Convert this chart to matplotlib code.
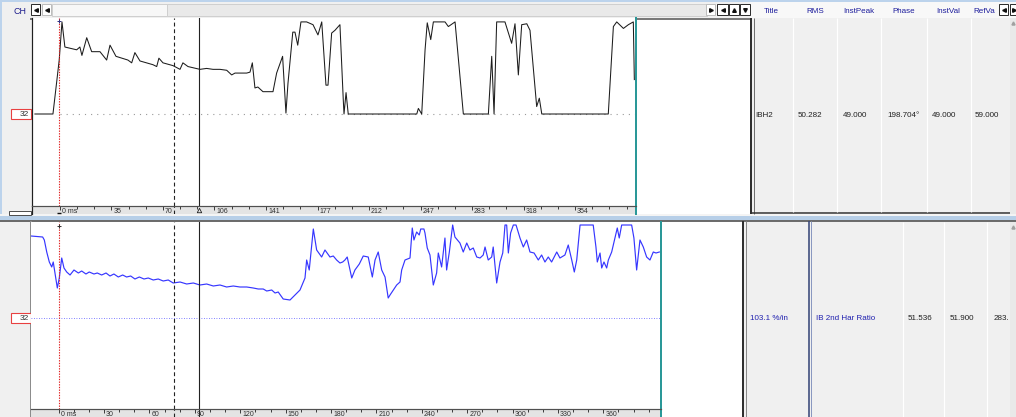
import matplotlib
matplotlib.use("Agg")
import matplotlib.pyplot as plt
from matplotlib.patches import Rectangle
from matplotlib import transforms as mtrans

plt.rcParams['font.family'] = ['Liberation Sans', 'DejaVu Sans']

W, H = 1016, 417

# ---------------- channel 1: IBH2 (time in ms, value in %) ----------------
ibh2_t = [-17.2, -4.8, -0.5, 1.4, 3.4, 11.5, 13.7, 15.1, 18.4, 21.8,
          27.5, 32.1, 34.4, 38.5, 46.7, 49.3, 51.5, 55.0, 63.9, 66.5,
          68.0, 70.8, 77.7, 82.5, 84.5, 88.0, 96.2, 100.8, 105.2, 110.0,
          114.6, 118.0, 120.3, 128.3, 130.6, 132.2, 134.0, 136.0, 139.5, 146.4,
          148.9, 153.0, 155.3, 156.7, 160.0, 161.5, 163.4, 165.6, 169.5, 173.9,
          177.3, 179.9, 182.8, 184.2, 186.7, 189.0, 192.4, 194.7, 195.2, 196.6,
          198.1, 245.2, 246.3, 248.6, 250.9, 252.4, 254.8, 256.6, 264.6, 266.9,
          271.5, 272.6, 277.2, 294.4, 296.7, 298.3, 300.1, 305.8, 310.4, 312.7,
          315.0, 317.3, 320.8, 323.0, 327.6, 329.4, 331.1, 376.8, 380.3, 382.6,
          387.2, 390.6, 394.0, 394.7]
ibh2_v = [0, 0, 58, 99, 72, 69, 72, 63, 82, 67,
          67, 58, 74, 62, 58, 55, 66, 57, 53, 51,
          60, 55, 52, 48, 55, 51, 48, 49, 48, 48,
          47, 42, 44, 44, 45, 55, 28, 29, 24, 24,
          44, 62, 1, 33, 88, 88, 74, 99, 99, 96,
          85, 99, 31, 31, 87, 90, 96, 15, 0, 23,
          0, 0, 6, 0, 69, 98, 80, 99, 99, 94,
          99, 80, 0, 0, 62, 0, 99, 99, 76, 97,
          42, 96, 97, 90, 8, 17, 0, 0, 94, 99,
          92, 96, 99, 37]

# ---------------- channel 2: IB 2nd Har Ratio ----------------
ratio_t = [-18.3, -10.6, -9.5, -7.9, -6.2, -4.6, -3.6, -2.0, -0.9, 0.4,
           2.0, 3.5, 5.3, 7.5, 10.1, 13.0, 15.2, 18.0, 20.2, 23.3,
           25.5, 28.4, 31.3, 33.9, 36.5, 39.4, 42.3, 44.9, 47.6, 50.4,
           53.3, 56.4, 59.2, 62.5, 65.8, 69.1, 72.4, 75.7, 80.2, 84.6,
           89.0, 93.4, 97.8, 102.2, 106.6, 111.0, 115.4, 119.8, 124.3, 128.6,
           131.9, 135.2, 137.5, 140.8, 143.0, 145.1, 148.4, 152.9, 159.5, 162.8,
           163.9, 165.6, 168.3, 170.5, 173.8, 176.0, 179.3, 181.5, 183.7, 185.9,
           187.7, 189.2, 190.7, 192.1, 193.7, 195.8, 198.7, 201.3, 204.6, 207.3,
           209.1, 211.2, 213.5, 215.7, 217.8, 219.0, 221.2, 223.4, 225.6, 226.7,
           228.9, 232.2, 233.7, 234.8, 236.6, 238.3, 239.3, 241.4, 242.1, 243.6,
           245.4, 247.6, 249.8, 250.9, 253.1, 255.3, 256.4, 258.2, 260.4, 261.9,
           265.2, 267.4, 269.7, 271.8, 274.0, 276.3, 278.5, 280.6, 281.8, 283.9,
           286.2, 287.2, 289.5, 291.7, 293.5, 295.0, 296.1, 297.2, 298.7, 300.5,
           302.3, 304.9, 307.1, 309.3, 311.5, 314.2, 317.0, 319.2, 321.4, 323.6,
           325.8, 329.2, 331.3, 334.6, 336.8, 339.1, 340.8, 342.4, 344.6, 353.3,
           355.1, 356.0, 357.8, 358.9, 360.4, 362.2, 363.3, 365.5, 367.7, 369.2,
           370.5, 372.1, 378.7, 380.2, 382.0, 384.2, 386.4, 388.6, 390.8, 393.0,
           394.8, 397.0]
ratio_v = [82, 81, 78, 66, 56, 51, 56, 41, 30, 40,
           60, 50, 46, 43, 48, 45, 47, 44, 46, 44,
           45, 43, 45, 42, 44, 41, 43, 41, 42, 39,
           41, 39, 40, 38, 39, 37, 38, 35, 36, 34,
           35, 33, 34, 32, 33, 31, 32, 31, 31, 30,
           29, 29, 27, 28, 25, 26, 19, 18, 28, 40,
           58, 48, 89, 68, 61, 68, 61, 62, 58, 55,
           56, 58, 61, 51, 40, 48, 54, 62, 61, 41,
           58, 66, 48, 41, 20, 23, 28, 33, 36, 48,
           58, 60, 90, 78, 86, 83, 89, 89, 85, 70,
           63, 33, 45, 65, 51, 80, 48, 66, 93, 81,
           75, 66, 75, 68, 70, 61, 60, 63, 71, 58,
           61, 71, 35, 56, 65, 93, 93, 65, 85, 93,
           93, 80, 71, 78, 66, 65, 58, 63, 56, 61,
           56, 66, 60, 63, 73, 58, 46, 58, 93, 93,
           71, 56, 65, 50, 56, 50, 58, 66, 80, 90,
           80, 93, 93, 80, 48, 78, 71, 61, 58, 66,
           65, 66]

# time axes
top_tick_ms = [0, 35.4, 70.8, 106.2, 141.6, 177.0, 212.4, 247.8, 283.2, 318.6, 354.0]
top_tick_labels = ["0 ms", "35", "70", "106", "141", "177", "212", "247", "283", "318", "354"]
bottom_tick_ms = [0, 30, 60, 90, 120, 150, 180, 210, 240, 270, 300, 330, 360]
bottom_tick_labels = ["0 ms", "30", "60", "90", "120", "150", "180", "210", "240", "270",
                      "300", "330", "360"]

# cursors: reference (red), A (dashed), B (solid)
top_cursors = [-0.5, 78.4, 95.3]
bottom_cursors = [0.4, 76.2, 92.5]

# readout tables
header_titles = ["Title", "RMS", "InstPeak", "Phase", "InstVal", "RefVa"]
row_ibh2 = ["IBH2", "50.282", "49.000", "198.704\u00b0", "49.000", "59.000"]
row_ratio_scale = "103.1 %/in"
row_ratio = ["IB 2nd Har Ratio", "51.536", "51.900", "283."]
channel_no = "32"

TEAL = '#2a9898'
GRAY = '#f0f0f0'
BLUE_TXT = '#2020b0'
PX = 0.72  # one pixel expressed in points

fig = plt.figure(figsize=(W / 100, H / 100), dpi=100)
fig.patch.set_facecolor('white')

# ---------- window chrome in pixel coordinates ----------
bg = fig.add_axes([0, 0, 1, 1])
bg.set_xlim(0, W)
bg.set_ylim(H, 0)
bg.axis('off')


def rect(x0, y0, x1, y1, fc, ec='none', lw=0.0, z=1):
    bg.add_patch(Rectangle((x0, y0), x1 - x0, y1 - y0, facecolor=fc,
                           edgecolor=ec, linewidth=lw * PX, zorder=z))


def hl(y, x0, x1, color, lw=1.0, z=3):
    bg.plot([x0, x1], [y, y], color=color, lw=lw * PX, zorder=z, solid_capstyle='butt')


def vl(x, y0, y1, color, lw=1.0, z=3):
    bg.plot([x, x], [y0, y1], color=color, lw=lw * PX, zorder=z, solid_capstyle='butt')


def px_axes(x0, y0, x1, y1):
    return fig.add_axes([x0 / W, 1 - y1 / H, (x1 - x0) / W, (y1 - y0) / H])


# header bar
rect(0, 0, W, 18, GRAY)
rect(0, 0, W, 2, '#bcd3ec')
rect(52, 4, 167, 16, '#f7f7f7', ec='#cfcfcf', lw=1)
rect(167, 4, 707, 16, '#e9e9e9', ec='#cfcfcf', lw=1)
rect(750, 2, W, 18, '#f8f8f8')
bg.text(20, 11, "CH", ha='center', va='center', fontsize=6.4, color='#1c1c8c')
# scroll buttons
for (bx0, bx1, mk, boxed) in [(31, 40, '<', True), (42, 51, '<', False),
                              (706, 715, '>', False), (717, 728, '<', True),
                              (729, 739, '^', True), (740, 750, 'v', True),
                              (999, 1008, '<', True)]:
    rect(bx0, 4, bx1, 15, 'white', ec='#303030' if boxed else '#bdbdbd', lw=1, z=2)
    bg.plot((bx0 + bx1) / 2, 9.5, marker=mk, ms=2.6, color='#101010', zorder=4)
rect(1010, 4, W, 15, 'white', ec='#303030', lw=1, z=2)
bg.plot(1013.5, 9.5, marker='>', ms=2.6, color='#101010', zorder=4)
hdr_x = [764, 806, 843, 892, 936, 973]
for x, t in zip(hdr_x, header_titles):
    bg.text(x, 11, t, ha='left', va='center', fontsize=5.8, color='#1c1c9c')

# left gutter & window edge
rect(0, 18, 32, 214, GRAY)
rect(0, 221, 31, H, GRAY)
rect(0, 0, 2, 214, '#bcd3ec', z=2)
rect(9, 211, 31, 215, 'white', ec='#505050', lw=1, z=2)
hl(18.5, 30, 750, '#5a5a5a', 1.6)

# top readout table
rect(750, 18, 1010, 213, GRAY)
vl(751, 18, 214, '#303030', 2)
vl(754, 18, 214, '#707070', 1)
hl(213, 750, 1010, '#303030', 1.5)
for x in [793, 837, 881, 927, 971]:
    vl(x, 18, 212, 'white', 1.2)
rect(1010, 18, W, 214, '#e9e9e9')
bg.plot(1013, 23, marker='^', ms=2.2, color='#a0a0a0', zorder=4)
row1_x = [755, 798, 843, 887, 932, 975]
for x, t in zip(row1_x, row_ibh2):
    bg.text(x, 115, t, ha='left', va='center', fontsize=5.8, color='#202020')

# separator between channels
rect(0, 214, W, 221, '#f4f4f4')
rect(0, 215.5, W, 220.2, '#b7cfe8')
hl(221, 0, W, '#4a4a4a', 1.6)

# bottom readout table
rect(742, 222, 1010, H, GRAY)
vl(743, 221, H, '#303030', 2)
vl(745.5, 221, H, '#8a8a8a', 1)
vl(808.5, 221, H, '#3a4a7a', 1.6)
vl(810.8, 221, H, '#8a98c0', 1)
for x in [903, 943.5, 987]:
    vl(x, 222, H, 'white', 1.2)
rect(1010, 222, W, H, '#e9e9e9')
bg.plot(1013, 227, marker='^', ms=2.2, color='#a0a0a0', zorder=4)
bg.text(750, 318, row_ratio_scale, ha='left', va='center', fontsize=5.8, color=BLUE_TXT)
row2_x = [816, 908, 950, 994]
row2_col = [BLUE_TXT, '#202020', '#202020', '#202020']
for x, t, c in zip(row2_x, row_ratio, row2_col):
    bg.text(x, 318, t, ha='left', va='center', fontsize=5.8, color=c)
vl(30.5, 221, H, '#8c8c8c', 2)

# channel number boxes
for yc in (114, 318):
    rect(11, yc - 5, 30.5, yc + 5, 'white', ec='#e84040', lw=1.1, z=4)
    bg.text(28.5, yc + 0.3, channel_no, ha='right', va='center', fontsize=6,
            color='#303030', zorder=5)


def teal_right(ax):
    ax.spines['right'].set_visible(True)
    ax.spines['right'].set_color(TEAL)
    ax.spines['right'].set_linewidth(2 * PX)


def style_strip(ax, ticks, labels, minor_step, xlim):
    ax.set_facecolor('#e4e4e4')
    ax.set_xlim(*xlim)
    ax.set_ylim(0, 1)
    ax.set_yticks([])
    ax.spines['bottom'].set_visible(False)
    ax.spines['top'].set_color('#505050')
    ax.spines['top'].set_linewidth(1.2 * PX)
    ax.spines['left'].set_color('#202020')
    ax.spines['left'].set_linewidth(1.2 * PX)
    teal_right(ax)
    ax.set_xticks(ticks)
    minors = []
    m = minor_step
    while m < xlim[1]:
        minors.append(m)
        m += minor_step
    ax.set_xticks(minors, minor=True)
    ax.tick_params(axis='x', which='both', direction='in', top=True, bottom=False,
                   labelbottom=False, labeltop=False, color='#202020', width=0.6)
    ax.tick_params(axis='x', which='major', length=2.6)
    ax.tick_params(axis='x', which='minor', length=1.8)
    off = mtrans.offset_copy(ax.get_xaxis_transform(), fig=fig, x=2, y=0, units='dots')
    for t, lab in zip(ticks, labels):
        ax.text(t, 0.3, lab, transform=off, ha='left', va='center',
                fontsize=5.0, color='#303030')


def draw_cursors(ax, xs):
    ax.axvline(xs[0], color='#e02020', lw=0.8, ls=(0, (1.2, 1.2)), zorder=5)
    ax.axvline(xs[1], color='#222222', lw=0.8, ls=(0, (3.5, 2.5)), zorder=5)
    ax.axvline(xs[2], color='#222222', lw=0.8, zorder=5)


# ---------- channel 1 plot ----------
top_xlim = (-19.2, 395.5)
ax1 = px_axes(32, 18, 635.5, 206)
ax1.set_facecolor('white')
ax1.set_xlim(*top_xlim)
ax1.set_ylim(-98.9, 103.2)
ax1.set_xticks([])
ax1.set_yticks([])
for s in ('top', 'bottom'):
    ax1.spines[s].set_visible(False)
ax1.spines['left'].set_color('#202020')
ax1.spines['left'].set_linewidth(1.2 * PX)
teal_right(ax1)
ax1.hlines(0, 0, top_xlim[1], color='#9a9a9a', lw=0.8, ls=(0, (1, 4.5)), zorder=1)
ax1.plot(ibh2_t, ibh2_v, color='#1c1c1c', lw=0.75, zorder=3)
draw_cursors(ax1, top_cursors)
ax1.plot([top_cursors[0]], [100], marker='+', ms=3, color='#303080',
         mew=0.7, zorder=6, clip_on=False)

st1 = px_axes(32, 206, 635.5, 214)
style_strip(st1, top_tick_ms, top_tick_labels, 11.8, top_xlim)
st1.axvline(top_cursors[1], color='#222222', lw=0.8, ls=(0, (3.5, 2.5)))
st1.plot([top_cursors[2]], [0.45], marker='^', ms=3.2, mfc='none', mec='#202020', mew=0.6)
st1.plot([top_cursors[0]], [0.15], marker='_', ms=3.5, color='#101010', mew=1.0)

# ---------- channel 2 plot ----------
bot_xlim = (-18.3, 398.1)
ax2 = px_axes(31, 222, 661, 409)
ax2.set_facecolor('white')
ax2.set_xlim(*bot_xlim)
ax2.set_ylim(-91, 96)
ax2.set_xticks([])
ax2.set_yticks([])
for s in ('top', 'bottom', 'left'):
    ax2.spines[s].set_visible(False)
teal_right(ax2)
ax2.axhline(0, color='#5a5aff', lw=0.6, ls=(0, (1, 2)), zorder=1)
ax2.plot(ratio_t, ratio_v, color='#3636ff', lw=0.85, zorder=3)
draw_cursors(ax2, bottom_cursors)
ax2.plot([bottom_cursors[0]], [92], marker='+', ms=3, color='#303030',
         mew=0.7, zorder=6)

st2 = px_axes(31, 409, 661, 417)
style_strip(st2, bottom_tick_ms, bottom_tick_labels, 10, bot_xlim)
st2.spines['left'].set_visible(False)
st2.axvline(bottom_cursors[1], color='#222222', lw=0.8, ls=(0, (3.5, 2.5)))
st2.axvline(bottom_cursors[2], color='#222222', lw=0.8)

fig.savefig("out.png", dpi=100)
